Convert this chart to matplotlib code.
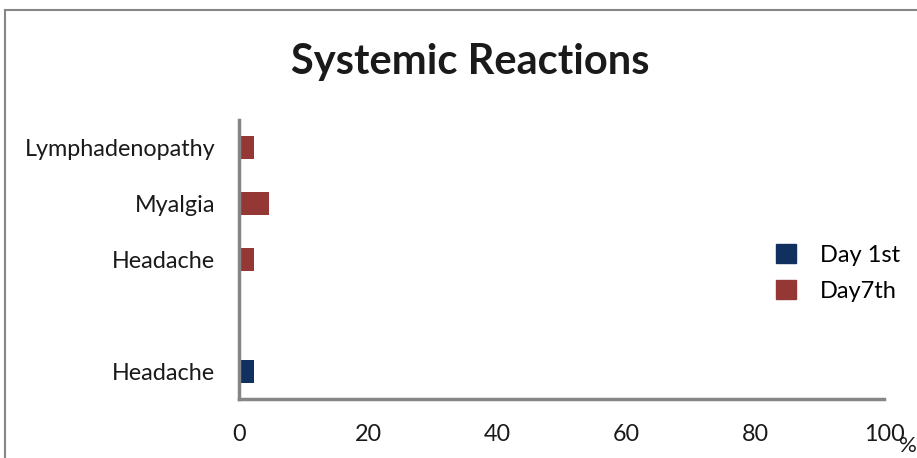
import numpy as np
import matplotlib.pyplot as plt
from matplotlib.patches import Rectangle, Patch

# rows from bottom to top; the second row is an empty spacer
symptoms = ['Headache', '', 'Headache', 'Myalgia', 'Lymphadenopathy']
day1 = [2.3, 0, 0, 0, 0]
day7 = [0, 0, 2.3, 4.6, 2.3]
series_names = ['Day 1st', 'Day7th']
x_ticks = [0, 20, 40, 60, 80, 100]

blue = '#10305f'
red = '#953735'
grey = '#868686'

plt.rcParams['font.family'] = ['Lato', 'DejaVu Sans']

W, H = 917, 458
fig = plt.figure(figsize=(W / 100, H / 100), dpi=100)

# outer chart frame (runs off the right and bottom edges)
fig.patches.append(Rectangle((5 / W, -0.1), 1.2, 1 - 10 / H + 0.1,
                             transform=fig.transFigure, fill=False,
                             edgecolor=grey, linewidth=1.5))

ax = fig.add_axes([239 / W, (H - 399) / H, 645 / W, (399 - 120) / H])

y = np.arange(len(symptoms))
h = 0.41
ax.barh(y, day1, height=h, color=blue, label=series_names[0])
ax.barh(y, day7, height=h, color=red, label=series_names[1])

ax.set_xlim(0, 100)
ax.set_ylim(-0.5, len(symptoms) - 0.5)
ax.set_yticks(y)
ax.set_yticklabels(symptoms, fontsize=16.8, color='#1a1a1a')
ax.set_xticks(x_ticks)
ax.set_xticklabels([str(t) for t in x_ticks], fontsize=16.8, color='#1a1a1a')
ax.tick_params(length=0, pad=17, axis='y')
ax.tick_params(length=0, pad=18, axis='x')

for side in ['top', 'right']:
    ax.spines[side].set_visible(False)
for side in ['left', 'bottom']:
    ax.spines[side].set_color(grey)
    ax.spines[side].set_linewidth(2.5)

# unit label tucked under the right end of the x axis
fig.text(908 / W, 1 - 446 / H, '%', fontsize=16, color='#1a1a1a',
         ha='center', va='center')

fig.text(470 / W, 1 - 62 / H, 'Systemic Reactions', fontsize=30,
         fontweight='bold', color='#1a1a1a', ha='center', va='center')

handles = [Patch(color=blue), Patch(color=red)]
fig.legend(handles, series_names, loc='center left',
           bbox_to_anchor=(755 / W, 1 - 273 / H), frameon=False,
           fontsize=17, handlelength=0.85, handleheight=0.85,
           handletextpad=1.0, labelspacing=0.6)

fig.savefig('out.png', dpi=100)
